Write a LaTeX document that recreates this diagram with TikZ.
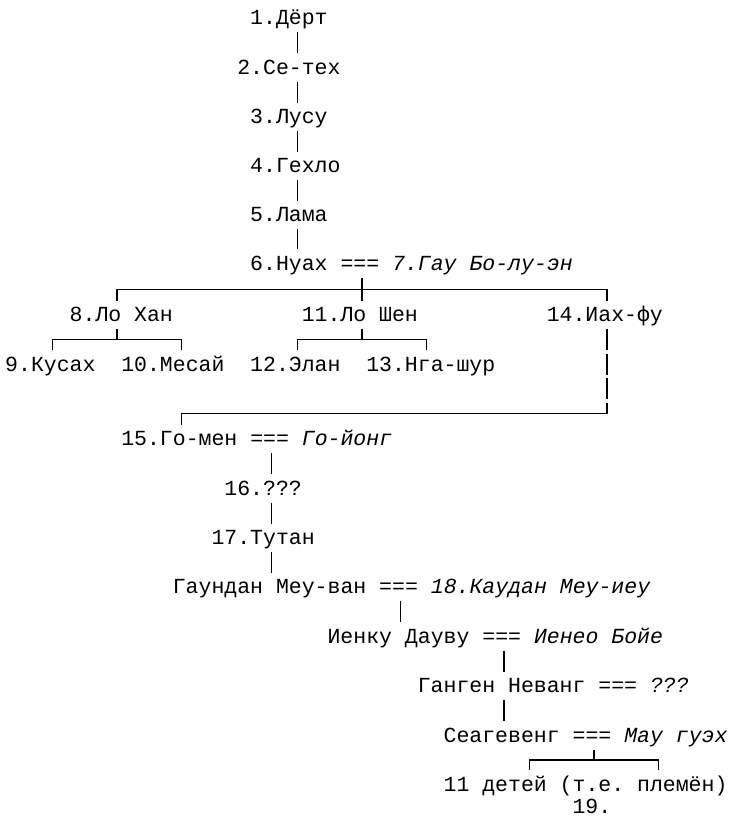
\documentclass[tikz,border=0pt]{standalone}
\usepackage{fontspec}
\setmonofont{Liberation Mono}
\usetikzlibrary{calc}
\newcommand\colx[1]{5+#1*12.895}

\begin{document}
\begin{tikzpicture}[x=1pt,y=-1pt,
	txt/.style={anchor=base west,inner sep=0pt,text height=20.5pt,text depth=7.5pt,
		font=\ttfamily\fontsize{21.5}{24}\selectfont},
	link/.style={line width=1.4pt}]
	\useasboundingbox (0,0) rectangle (733,816);
	\foreach \col in {3,8,13,20,22,27,30,32,38,40,45,46,50}
	\coordinate (c\col) at ({7.4+(\col+0.5)*12.895},0);
	
	\foreach \n/\col/\y/\name in {1/19/24.5/1.Дёрт, 2/18/74.1/2.Се-тех, 3/19/123.2/3.Лусу,
		4/19/172.3/4.Гехло, 5/19/221.4/5.Лама, 8/5/321.5/8.Ло Хан, 11/23/321.5/11.Ло Шен,
		14/42/321.5/14.Иах-фу, 9/0/371/9.Кусах, 10/9/371/10.Месай, 12/19/371/12.Элан,
		13/28/371/13.Нга-шур, 16/17/495/16.???, 17/16/544.5/17.Тутан}
	\node[txt] (n\n) at ({\colx{\col}},\y) {\name};
	\node[txt] (n6) at ({\colx{19}},270) {6.Нуах === \textit{7.Гау Бо-лу-эн}};
	\node[txt] (n15) at ({\colx{9}},445.5) {15.Го-мен === \textit{Го-йонг}};
	\node[txt] (n18) at ({\colx{13}},593.5) {Гаундан Меу-ван === \textit{18.Каудан Меу-иеу}};
	\node[txt] (ien) at ({\colx{25}},643) {Иенку Дауву === \textit{Иенео Бойе}};
	\node[txt] (gan) at ({\colx{32}},692.5) {Ганген Неванг === \textit{???}};
	\node[txt] (sea) at ({\colx{34}},742) {Сеагевенг === \textit{Мау гуэх}};
	\node[txt] (kids) at ({\colx{34}},791) {11 детей (т.е. племён)};
	\node[txt] (n19) at ({\colx{44}},813) {19.};
	
	\foreach \a/\b/\k in {1/2/22, 2/3/22, 3/4/22, 4/5/22, 5/6/22, 15/16/20, 16/17/20, 17/18/20}
	\draw[link] (n\a.south -| c\k) -- (n\b.north -| c\k);
	\draw[link] (n18.south -| c30) -- (ien.north -| c30);
	\draw[link] (ien.south -| c38) -- (gan.north -| c38);
	\draw[link] (gan.south -| c38) -- (sea.north -| c38);
	
	\coordinate (r11) at ($(n6.south)!.5!(n8.north)$);
	\coordinate (r13) at ($(n8.south)!.5!(n9.north)$);
	\coordinate (r30) at ($(sea.south)!.5!(kids.north)$);
	\draw[link] (n6.south -| c27) -- (n11.north -| c27);
	\draw[link] (n8.north -| c8) -- (r11 -| c8) -- (r11 -| c46) -- (n14.north -| c46);
	\draw[link] (n8.south -| c8) -- (r13 -| c8);
	\draw[link] (n9.north -| c3) -- (r13 -| c3) -- (r13 -| c13) -- (n10.north -| c13);
	\draw[link] (n11.south -| c27) -- (r13 -| c27);
	\draw[link] (n12.north -| c22) -- (r13 -| c22) -- (r13 -| c32) -- (n13.north -| c32);
	\draw[link] (n14.south -| c46) -- ++(0,21) ++(0,3.5) -- ++(0,21) ++(0,3.5) -- ++(0,21)
		++(0,4) -- ++(0,10.5) -| (n15.north -| c13);
	\draw[link] (sea.south -| c45) -- (r30 -| c45);
	\draw[link] (kids.north -| c40) -- (r30 -| c40) -- (r30 -| c50) -- (kids.north -| c50);
\end{tikzpicture}
\end{document}
